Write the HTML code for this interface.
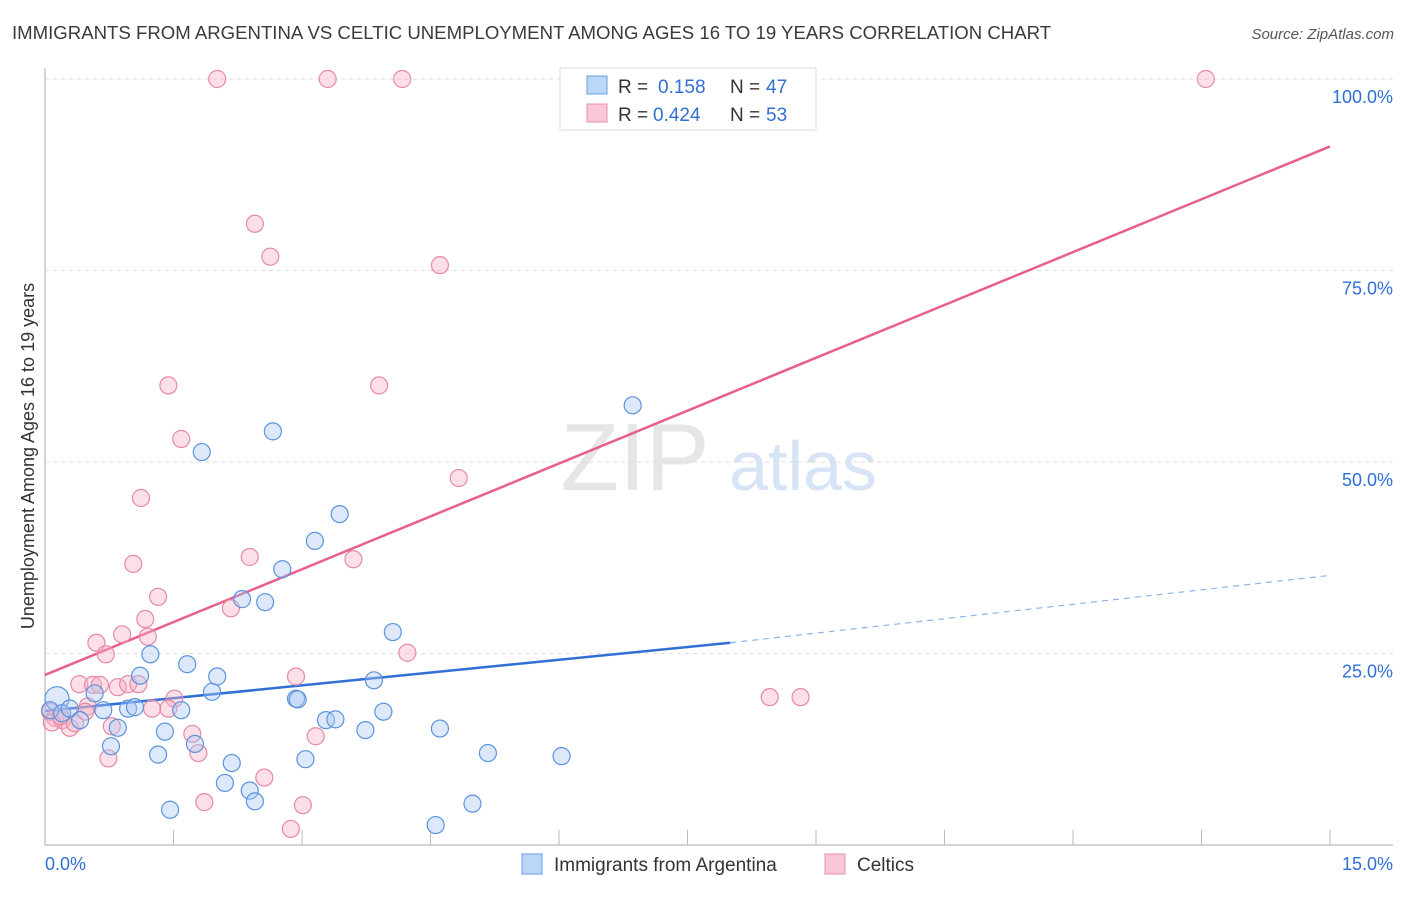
<!DOCTYPE html>
<html><head><meta charset="utf-8"><style>
body{margin:0;background:#fff;font-family:"Liberation Sans",sans-serif;}
svg text{font-family:"Liberation Sans",sans-serif;}
</style></head><body>
<svg id="chart" width="1406" height="892" viewBox="0 0 1406 892" xmlns="http://www.w3.org/2000/svg">
<text x="12" y="39" font-size="18.6" fill="#3a3a3a">IMMIGRANTS FROM ARGENTINA VS CELTIC UNEMPLOYMENT AMONG AGES 16 TO 19 YEARS CORRELATION CHART</text>
<text x="1394" y="39" font-size="15" fill="#555" text-anchor="end" font-style="italic">Source: ZipAtlas.com</text>
<text transform="translate(34,456) rotate(-90)" font-size="18" fill="#333" text-anchor="middle">Unemployment Among Ages 16 to 19 years</text>
<g>
<text x="635" y="490" font-size="96" fill="#e6e6e6" text-anchor="middle" font-family="Liberation Serif">ZIP</text>
<text x="803" y="490" font-size="70" fill="#d6e4f6" text-anchor="middle">atlas</text>
</g>
<g id="grid"></g>
<g id="lines"></g>
<g id="points"></g>
<g id="legend-top">
<rect x="560" y="68" width="256" height="62" fill="#fff" stroke="#ddd"/>
<rect x="587" y="76" width="20" height="18" fill="#bcd6f7" stroke="#6a9fe0"/>
<text x="618" y="93" font-size="19" fill="#333">R = </text><text x="658" y="93" font-size="19" fill="#2f6fd6">0.158</text>
<text x="730" y="93" font-size="19" fill="#333">N = </text><text x="766" y="93" font-size="19" fill="#2f6fd6">47</text>
<rect x="587" y="104" width="20" height="18" fill="#f9c7d5" stroke="#e890ac"/>
<text x="618" y="121" font-size="19" fill="#333">R = </text><text x="653" y="121" font-size="19" fill="#2f6fd6">0.424</text>
<text x="730" y="121" font-size="19" fill="#333">N = </text><text x="766" y="121" font-size="19" fill="#2f6fd6">53</text>
</g>
<g>
<rect x="522" y="854" width="20" height="20" fill="#bcd6f7" stroke="#6a9fe0"/>
<text x="554" y="871" font-size="19" fill="#333">Immigrants from Argentina</text>
<rect x="825" y="854" width="20" height="20" fill="#f9c7d5" stroke="#e890ac"/>
<text x="857" y="871" font-size="19" fill="#333">Celtics</text>
</g>
<text x="45" y="870" font-size="18" fill="#2f6fd6">0.0%</text>
<text x="1393" y="870" font-size="18" fill="#2f6fd6" text-anchor="end">15.0%</text>
</svg>
<script>
const yTicks=[25,50,75,100];
const yTickLabels=["25.0%","50.0%","75.0%","100.0%"];
const blueX=[0.14,0.06,0.2,0.29,0.41,0.58,0.68,0.77,0.85,0.97,1.05,1.11,1.23,1.32,1.4,1.46,1.59,1.66,1.75,1.83,1.95,2.01,2.1,2.18,2.3,2.39,2.45,2.57,2.66,2.77,2.93,2.95,3.04,3.15,3.28,3.39,3.44,3.74,3.84,3.95,4.06,4.56,4.61,4.99,5.17,6.03,6.86];
const blueY=[19.1,17.6,17.2,17.8,16.3,19.8,17.6,12.9,15.3,17.8,18.0,22.1,24.9,11.8,14.8,4.6,17.6,23.6,13.2,51.3,20.0,22.0,8.1,10.7,32.1,7.1,5.7,31.7,54.0,36.0,19.1,19.0,11.2,39.7,16.3,16.4,43.2,15.0,21.5,17.4,27.8,2.6,15.2,5.4,12.0,11.6,57.4];
const pinkX=[2.01,3.3,4.17,13.55,2.45,2.63,4.61,1.44,3.9,1.59,4.83,1.12,1.03,2.39,3.6,1.32,1.17,2.17,0.9,1.2,0.6,0.71,4.23,2.93,0.4,0.56,0.64,0.85,0.97,1.09,1.51,1.44,1.25,0.5,0.06,0.12,0.2,0.29,0.35,0.47,0.78,0.74,1.72,1.79,3.16,2.56,1.86,3.01,2.87,8.46,8.82,0.08,0.18];
const pinkY=[100,100,100,100,81.1,76.8,75.7,60.0,60.0,53.0,47.9,45.3,36.7,37.6,37.3,32.4,29.5,30.9,27.5,27.2,26.4,24.9,25.1,22.0,21.0,20.9,20.9,20.6,21.0,21.0,19.1,17.8,17.8,18.1,17.4,16.6,16.3,15.3,15.9,17.4,15.5,11.3,14.5,12.0,14.2,8.8,5.6,5.2,2.1,19.3,19.3,16.0,16.8];
const blueFit=[17.5,26.4,35.2];const pinkFit=[22.2,91.2];
const NS="http://www.w3.org/2000/svg";
const X=v=>45+v/15*1285, Y=v=>845-v*7.66;
function mk(t,a,p){const e=document.createElementNS(NS,t);for(const k in a)e.setAttribute(k,a[k]);document.getElementById(p).appendChild(e);return e;}
let ax=mk('line',{x1:45,y1:68,x2:45,y2:845,stroke:'#aaa'},'grid');


let bx=mk('line',{x1:45,y1:845,x2:1393,y2:845,stroke:'#aaa'},'grid');


for(let i=1;i<=10;i++){const t=mk('line',{x1:X(i*1.5),y1:830,x2:X(i*1.5),y2:845,stroke:'#bbb'},'grid');

}
yTicks.forEach((v,i)=>{const g=mk('line',{x1:45,y1:Y(v),x2:1393,y2:Y(v),stroke:'#ddd','stroke-dasharray':'4,4'},'grid');


const t=mk('text',{x:1393,y:Y(v)+24,'font-size':18,fill:'#2f6fd6','text-anchor':'end'},'grid');t.textContent=yTickLabels[i];

});
function dots(xs,ys,fill,stroke,name){xs.forEach((x,i)=>{const c=mk('circle',{cx:X(x),cy:Y(ys[i]),r:(i==0&&name=='blue-point')?12:8.5,fill:fill,'fill-opacity':0.4,stroke:stroke,'stroke-width':1.2},'points');

});}
dots(pinkX,pinkY,'#f7b0c4','#e58aa8','pink-point');
dots(blueX,blueY,'#a9c8f2','#5b93dc','blue-point');
let l1=mk('line',{x1:X(0),y1:Y(blueFit[0]),x2:X(8),y2:Y(blueFit[1]),stroke:'#2f6fd6','stroke-width':2.5},'lines');


let l2=mk('line',{x1:X(8),y1:Y(blueFit[1]),x2:X(15),y2:Y(blueFit[2]),stroke:'#8fb3e6','stroke-width':1.2,'stroke-dasharray':'6,5'},'lines');


let l3=mk('line',{x1:X(0),y1:Y(pinkFit[0]),x2:X(15),y2:Y(pinkFit[1]),stroke:'#e8608a','stroke-width':2.5},'lines');


</script>
</body></html>
